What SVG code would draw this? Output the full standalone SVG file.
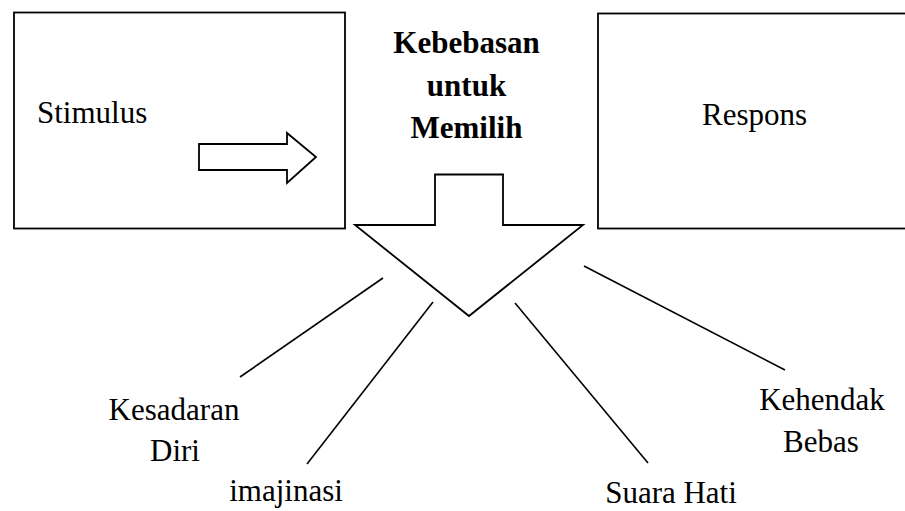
<svg xmlns="http://www.w3.org/2000/svg" width="905" height="511" viewBox="0 0 905 511">
<style>
.s{fill:#fff;stroke:#000;stroke-width:1.8;stroke-linejoin:miter}
.l{stroke:#000;stroke-width:1.6;fill:none}
text{font-family:"Liberation Serif","Times New Roman",serif;font-size:31px;fill:#000}
.c{text-anchor:middle}
.b{font-weight:bold}
</style>
<rect width="905" height="511" fill="#fff"/>
<g id="stimulus">
<rect class="s" x="14" y="12.5" width="331" height="216"/>
<text x="37" y="123">Stimulus</text>
<polygon class="s" points="199,144 287,144 287,133 316,157 287,183 287,170 199,170"/>
</g>
<g id="respons">
<rect class="s" x="598" y="13.5" width="320" height="215"/>
<text x="702" y="125">Respons</text>
</g>
<g id="kebebasan">
<text class="c b" x="466.5" y="53">Kebebasan</text>
<text class="c b" x="466.5" y="96">untuk</text>
<text class="c b" x="466.5" y="138">Memilih</text>
<polygon class="s" points="435,174.5 503,174.5 503,225 583,225 469,316 355,225 435,225"/>
</g>
<g id="connectors">
<line class="l" x1="383" y1="278" x2="240" y2="377"/>
<line class="l" x1="433" y1="302" x2="307" y2="464"/>
<line class="l" x1="515" y1="303" x2="648" y2="463"/>
<line class="l" x1="584" y1="266" x2="785" y2="370"/>
</g>
<g id="kesadaran">
<text class="c" x="174" y="420">Kesadaran</text>
<text class="c" x="175" y="461">Diri</text>
</g>
<g id="imajinasi">
<text class="c" x="286" y="501">imajinasi</text>
</g>
<g id="suarahati">
<text class="c" x="671" y="503">Suara Hati</text>
</g>
<g id="kehendak">
<text class="c" x="822" y="410">Kehendak</text>
<text class="c" x="821" y="452">Bebas</text>
</g>
</svg>
